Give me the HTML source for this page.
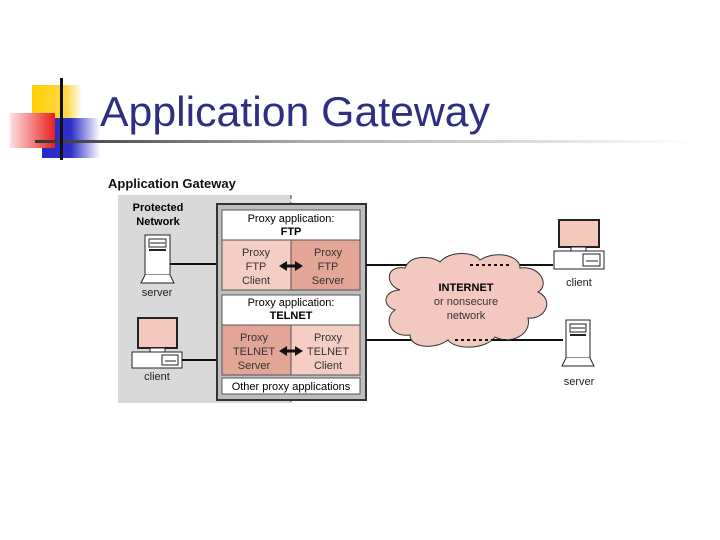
<!DOCTYPE html>
<html><head><meta charset="utf-8"><style>
html,body{margin:0;padding:0;background:#fff;width:720px;height:540px;overflow:hidden}
svg{display:block}
text{font-family:"Liberation Sans",Arial,sans-serif}
</style></head><body>
<svg width="720" height="540" viewBox="0 0 720 540" xmlns="http://www.w3.org/2000/svg">
<defs>
<linearGradient id="hl" x1="0" x2="1" y1="0" y2="0">
<stop offset="0" stop-color="#333"/><stop offset="0.4" stop-color="#aaa"/><stop offset="1" stop-color="#fff"/></linearGradient>
<linearGradient id="red" x1="0" x2="1"><stop offset="0" stop-color="#fde0e0"/><stop offset="1" stop-color="#e82020"/></linearGradient>
<linearGradient id="blue" x1="0" x2="1"><stop offset="0" stop-color="#2828c8"/><stop offset="0.5" stop-color="#3030c8"/><stop offset="1" stop-color="#fff"/></linearGradient>
<linearGradient id="yel" x1="0" x2="1"><stop offset="0" stop-color="#ffd000"/><stop offset="0.7" stop-color="#ffd84a"/><stop offset="1" stop-color="#fff"/></linearGradient>
</defs>
<rect x="32" y="85" width="50" height="35" fill="url(#yel)"/>
<rect x="42" y="118" width="58" height="40" fill="url(#blue)"/>
<rect x="10" y="113" width="45" height="35" fill="url(#red)"/>
<rect x="35" y="140" width="660" height="3" fill="url(#hl)"/>
<rect x="60" y="78" width="3" height="82" fill="#111"/>
<text x="100" y="126" font-size="42" fill="#2e2e82" textLength="390" lengthAdjust="spacingAndGlyphs">Application Gateway</text>

<text x="108" y="188" font-size="13" font-weight="bold" fill="#111">Application Gateway</text>
<rect x="118" y="195" width="173" height="208" fill="#d9d9d9"/>
<line x1="291" y1="195" x2="291" y2="405" stroke="#333" stroke-dasharray="4,3"/>
<text x="158" y="211" font-size="11" font-weight="bold" text-anchor="middle">Protected</text>
<text x="158" y="225" font-size="11" font-weight="bold" text-anchor="middle">Network</text>

<rect x="145" y="235" width="25" height="40" fill="#fff" stroke="#222"/>
<rect x="149" y="239" width="17" height="8" fill="#fff" stroke="#222"/>
<line x1="150" y1="243" x2="165" y2="243" stroke="#222"/>
<rect x="149" y="249" width="17" height="2" fill="#222"/>
<path d="M145 275 L141 283 L174 283 L170 275" fill="#fff" stroke="#222"/>
<text x="157" y="296" font-size="11" text-anchor="middle" fill="#222">server</text>
<line x1="170" y1="264" x2="222" y2="264" stroke="#111" stroke-width="2"/>

<rect x="138" y="318" width="39" height="30" fill="#f3c9bd" stroke="#222" stroke-width="2"/>
<rect x="150" y="348" width="15" height="4" fill="#fff" stroke="#222"/>
<rect x="132" y="352" width="50" height="16" fill="#fff" stroke="#222"/>
<rect x="162" y="355" width="16" height="10" fill="#fff" stroke="#222"/>
<line x1="165" y1="361" x2="176" y2="361" stroke="#222"/>
<text x="157" y="380" font-size="11" text-anchor="middle" fill="#222">client</text>
<line x1="182" y1="360" x2="222" y2="360" stroke="#111" stroke-width="2"/>

<rect x="217" y="204" width="149" height="196" fill="#bdbdbd" stroke="#333" stroke-width="2"/>
<rect x="222" y="210" width="138" height="30" fill="#fff" stroke="#555"/>
<text x="291" y="222" font-size="11" text-anchor="middle">Proxy application:</text>
<text x="291" y="235" font-size="11" font-weight="bold" text-anchor="middle">FTP</text>
<rect x="222" y="240" width="69" height="50" fill="#f4cdc3" stroke="#555"/>
<rect x="291" y="240" width="69" height="50" fill="#e3a595" stroke="#555"/>
<text x="256" y="256" font-size="11" text-anchor="middle" fill="#333">Proxy</text>
<text x="256" y="270" font-size="11" text-anchor="middle" fill="#333">FTP</text>
<text x="256" y="284" font-size="11" text-anchor="middle" fill="#333">Client</text>
<text x="328" y="256" font-size="11" text-anchor="middle" fill="#333">Proxy</text>
<text x="328" y="270" font-size="11" text-anchor="middle" fill="#333">FTP</text>
<text x="328" y="284" font-size="11" text-anchor="middle" fill="#333">Server</text>
<path d="M279 266 L287 261 L287 264.5 L295 264.5 L295 261 L303 266 L295 271 L295 267.5 L287 267.5 L287 271 Z" fill="#111"/>

<rect x="222" y="295" width="138" height="30" fill="#fff" stroke="#555"/>
<text x="291" y="306" font-size="11" text-anchor="middle">Proxy application:</text>
<text x="291" y="319" font-size="11" font-weight="bold" text-anchor="middle">TELNET</text>
<rect x="222" y="325" width="69" height="50" fill="#e3a595" stroke="#555"/>
<rect x="291" y="325" width="69" height="50" fill="#f4cdc3" stroke="#555"/>
<text x="254" y="341" font-size="11" text-anchor="middle" fill="#333">Proxy</text>
<text x="254" y="355" font-size="11" text-anchor="middle" fill="#333">TELNET</text>
<text x="254" y="369" font-size="11" text-anchor="middle" fill="#333">Server</text>
<text x="328" y="341" font-size="11" text-anchor="middle" fill="#333">Proxy</text>
<text x="328" y="355" font-size="11" text-anchor="middle" fill="#333">TELNET</text>
<text x="328" y="369" font-size="11" text-anchor="middle" fill="#333">Client</text>
<path d="M279 351 L287 346 L287 349.5 L295 349.5 L295 346 L303 351 L295 356 L295 352.5 L287 352.5 L287 356 Z" fill="#111"/>
<rect x="222" y="378" width="138" height="16" fill="#fff" stroke="#555"/>
<text x="291" y="390" font-size="11" text-anchor="middle">Other proxy applications</text>

<line x1="366" y1="265" x2="553" y2="265" stroke="#111" stroke-width="2"/>
<line x1="366" y1="340" x2="563" y2="340" stroke="#111" stroke-width="2"/>
<path d="M400 290 C385 285 385 265 405 268 C410 255 430 255 440 262 C450 250 475 252 480 260 C495 250 520 255 520 268 C540 265 550 285 538 292 C555 300 545 320 528 318 C532 335 510 345 495 337 C485 350 455 350 448 340 C435 350 410 348 410 335 C390 338 383 318 395 310 C380 305 385 290 400 290 Z" fill="#f3c8be" stroke="#333" stroke-width="1"/>
<line x1="470" y1="265" x2="512" y2="265" stroke="#111" stroke-width="2" stroke-dasharray="3,3"/>
<line x1="455" y1="340" x2="508" y2="340" stroke="#111" stroke-width="2" stroke-dasharray="3,3"/>
<text x="466" y="291" font-size="11" font-weight="bold" text-anchor="middle">INTERNET</text>
<text x="466" y="305" font-size="11" text-anchor="middle" fill="#333">or nonsecure</text>
<text x="466" y="319" font-size="11" text-anchor="middle" fill="#333">network</text>

<rect x="559" y="220" width="40" height="27" fill="#f3c9bd" stroke="#222" stroke-width="2"/>
<rect x="571" y="247" width="15" height="4" fill="#fff" stroke="#222"/>
<rect x="554" y="251" width="50" height="18" fill="#fff" stroke="#222"/>
<rect x="583" y="254" width="17" height="12" fill="#fff" stroke="#222"/>
<line x1="586" y1="261" x2="598" y2="261" stroke="#222"/>
<text x="579" y="286" font-size="11" text-anchor="middle" fill="#222">client</text>

<rect x="566" y="320" width="24" height="38" fill="#fff" stroke="#222"/>
<rect x="570" y="324" width="16" height="8" fill="#fff" stroke="#222"/>
<line x1="571" y1="328" x2="585" y2="328" stroke="#222"/>
<rect x="570" y="334" width="16" height="2" fill="#222"/>
<path d="M566 358 L562 366 L594 366 L590 358" fill="#fff" stroke="#222"/>
<text x="579" y="385" font-size="11" text-anchor="middle" fill="#222">server</text>
</svg>
</body></html>
